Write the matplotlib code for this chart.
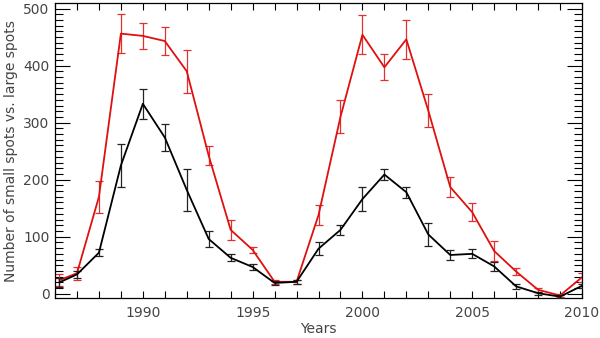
import matplotlib
matplotlib.use("Agg")
import matplotlib.pyplot as plt
from matplotlib.ticker import MultipleLocator

years = [1986.2] + list(range(1987, 2011))

small_vals = [20, 34, 72, 225, 333, 274, 182, 96, 63, 47, 19, 21, 79, 112, 166, 209, 178,
              104, 68, 70, 48, 13, 1, -5, 14]
small_err = [8, 6, 6, 37, 26, 23, 37, 14, 6, 6, 3, 3, 11, 9, 21, 9, 10,
             20, 8, 8, 8, 4, 3, 2, 4]

large_vals = [24, 36, 170, 456, 452, 443, 390, 242, 112, 77, 21, 21, 138, 310, 454, 397, 446,
              321, 187, 143, 75, 39, 7, -3, 29]
large_err = [10, 11, 28, 34, 23, 25, 38, 17, 17, 5, 4, 4, 18, 29, 34, 23, 34,
             29, 17, 16, 17, 6, 3, 2, 8]

fig = plt.figure(figsize=(6.0, 3.38), dpi=100)
ax = fig.add_axes([0.0917, 0.119, 0.8783, 0.871])

ax.errorbar(years, large_vals, yerr=large_err, color='#e01010', lw=1.3,
            elinewidth=0.9, capsize=3, capthick=0.9, ecolor='#e03030', zorder=2)
ax.errorbar(years, small_vals, yerr=small_err, color='black', lw=1.3,
            elinewidth=0.9, capsize=3, capthick=0.9, ecolor='#222222', zorder=3)

ax.set_xlim(1986, 2010)
ax.set_ylim(-7, 509)
ax.xaxis.set_major_locator(MultipleLocator(5))
ax.xaxis.set_minor_locator(MultipleLocator(1))
ax.yaxis.set_major_locator(MultipleLocator(100))
ax.yaxis.set_minor_locator(MultipleLocator(10))

ax.tick_params(axis='x', which='both', direction='in', top=True, bottom=True,
               length=5, width=0.8, labelsize=10, labelcolor='#444444', pad=6)
ax.tick_params(axis='y', which='major', direction='in', left=True, right=True,
               length=11, width=0.8, labelsize=10, labelcolor='#444444', pad=4)
ax.tick_params(axis='y', which='minor', direction='in', left=True, right=True,
               length=6, width=0.8)

for s in ax.spines.values():
    s.set_linewidth(0.9)

ax.set_xlabel('Years', fontsize=10, color='#444444', labelpad=1)
ax.set_ylabel('Number of small spots vs. large spots', fontsize=10, color='#444444', labelpad=4)

fig.savefig('out.png', dpi=100)
